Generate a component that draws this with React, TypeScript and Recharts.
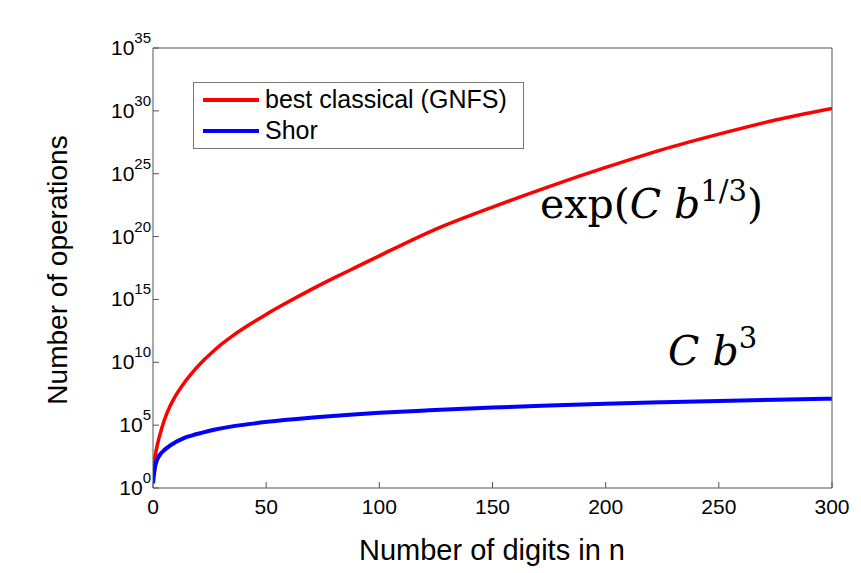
import { LineChart, Line, XAxis, YAxis, Legend } from 'recharts'

// digits in n, and log10(number of operations)
const classicalDigits = [0, 1, 2, 3, 5, 7.5, 10, 13.5, 17, 21, 25, 28, 35, 43, 50, 58, 69, 80, 90, 100, 125, 150, 175, 200, 225, 250, 275, 300]
const classicalExp = [1.3, 2.6, 3.5, 4.2, 5.4, 6.5, 7.35, 8.3, 9.1, 9.9, 10.6, 11.1, 12.08, 13.04, 13.81, 14.63, 15.7, 16.71, 17.59, 18.47, 20.6, 22.35, 23.98, 25.5, 26.92, 28.15, 29.27, 30.2]

const shorDigits = [0, 0.5, 1, 1.6, 2.5, 3.5, 4.6, 6, 7.5, 10, 13.4, 17, 21, 28, 35, 43, 58, 72, 87, 100, 122, 150, 175, 200, 225, 250, 275, 300]
const shorExp = [0.37, 1.2, 1.75, 2.15, 2.5, 2.75, 2.95, 3.17, 3.38, 3.65, 3.95, 4.17, 4.37, 4.67, 4.9, 5.1, 5.4, 5.63, 5.83, 5.98, 6.18, 6.4, 6.56, 6.7, 6.82, 6.93, 7.02, 7.1]

const xTicks = [0, 50, 100, 150, 200, 250, 300]
const yTicks = [0, 5, 10, 15, 20, 25, 30, 35]

const seriesNames = ['best classical (GNFS)', 'Shor']
const seriesColors = ['#ff0000', '#0000ff']

const classical = classicalDigits.map((d, i) => ({ d, v: classicalExp[i] }))
const shor = shorDigits.map((d, i) => ({ d, v: shorExp[i] }))

const AXIS = '#555'
const SANS = '"Liberation Sans", Arial, Helvetica, sans-serif'
const TICK = 6

function BottomTick({ x, y, payload }: any) {
  return (
    <g>
      <line x1={x} x2={x} y1={y} y2={y - TICK} stroke={AXIS} />
      <text x={x} y={y + 26} textAnchor="middle" fontSize={21} fontFamily={SANS} fill="#000">
        {payload.value}
      </text>
    </g>
  )
}

function TopTick({ x, y }: any) {
  return <line x1={x} x2={x} y1={y} y2={y + TICK} stroke={AXIS} />
}

function LeftTick({ x, y, payload }: any) {
  return (
    <g>
      <line x1={x} x2={x + TICK} y1={y} y2={y} stroke={AXIS} />
      <text x={x - 2} y={y + 7} textAnchor="end" fontSize={21} fontFamily={SANS} fill="#000">
        <tspan>10</tspan>
        <tspan dy={-12} fontSize={15}>{payload.value}</tspan>
      </text>
    </g>
  )
}

function RightTick({ x, y }: any) {
  return <line x1={x} x2={x - TICK} y1={y} y2={y} stroke={AXIS} />
}

function LegendBox() {
  return (
    <div
      style={{
        boxSizing: 'border-box',
        width: 331,
        height: 67,
        border: '1px solid #777',
        background: '#fff',
        padding: '1px 0 0 9px',
        fontFamily: SANS,
        fontSize: 25,
        color: '#000',
      }}
    >
      {seriesNames.map((name, i) => (
        <div key={name} style={{ display: 'flex', alignItems: 'center', height: 31 }}>
          <svg width={56} height={6} style={{ marginRight: 6 }}>
            <line x1={0} x2={56} y1={3} y2={3} stroke={seriesColors[i]} strokeWidth={4} />
          </svg>
          <span style={{ lineHeight: '31px' }}>{name}</span>
        </div>
      ))}
    </div>
  )
}

export default function App() {
  return (
    <div style={{ position: 'absolute', left: 0, top: 0, width: 861, height: 573, background: '#fff' }}>
      <LineChart width={861} height={573} margin={{ top: 47, right: 28, bottom: 84, left: 152 }}>
        <XAxis
          xAxisId={0}
          type="number"
          dataKey="d"
          domain={[0, 300]}
          ticks={xTicks}
          interval={0}
          height={1}
          tickSize={0}
          tickMargin={0}
          tickLine={false}
          axisLine={{ stroke: AXIS }}
          tick={<BottomTick />}
          allowDataOverflow
        />
        <XAxis
          xAxisId="top"
          orientation="top"
          type="number"
          dataKey="d"
          domain={[0, 300]}
          ticks={xTicks}
          interval={0}
          height={1}
          tickSize={0}
          tickMargin={0}
          tickLine={false}
          axisLine={{ stroke: AXIS }}
          tick={<TopTick />}
        />
        <YAxis
          yAxisId={0}
          type="number"
          domain={[0, 35]}
          ticks={yTicks}
          interval={0}
          width={1}
          tickSize={0}
          tickMargin={0}
          tickLine={false}
          axisLine={{ stroke: AXIS }}
          tick={<LeftTick />}
          allowDataOverflow
        />
        <YAxis
          yAxisId="right"
          orientation="right"
          type="number"
          domain={[0, 35]}
          ticks={yTicks}
          interval={0}
          width={1}
          tickSize={0}
          tickMargin={0}
          tickLine={false}
          axisLine={{ stroke: AXIS }}
          tick={<RightTick />}
        />
        <Legend
          layout="vertical"
          align="center"
          verticalAlign="middle"
          content={<LegendBox />}
          wrapperStyle={{ left: 193, top: 82, width: 331, height: 67 }}
        />
        <Line
          data={classical}
          dataKey="v"
          name={seriesNames[0]}
          type="monotone"
          stroke={seriesColors[0]}
          strokeWidth={3.5}
          dot={false}
          activeDot={false}
          isAnimationActive={false}
        />
        <Line
          data={shor}
          dataKey="v"
          name={seriesNames[1]}
          type="monotone"
          stroke={seriesColors[1]}
          strokeWidth={4}
          dot={false}
          activeDot={false}
          isAnimationActive={false}
        />
      </LineChart>
      <svg
        width={861}
        height={573}
        style={{ position: 'absolute', left: 0, top: 0, pointerEvents: 'none' }}
      >
        <text x={492} y={560} textAnchor="middle" fontSize={29} fontFamily={SANS} fill="#000">
          Number of digits in n
        </text>
        <text
          x={0}
          y={0}
          transform="translate(67 270) rotate(-90)"
          textAnchor="middle"
          fontSize={28}
          fontFamily={SANS}
          fill="#000"
        >
          Number of operations
        </text>
        <text x={540} y={218} fontSize={41} fontFamily='"DejaVu Serif", serif' fill="#000">
          <tspan>exp(</tspan>
          <tspan fontStyle="italic">C</tspan>
          <tspan> </tspan>
          <tspan fontStyle="italic">b</tspan>
          <tspan dy={-17} fontSize={29}>1/3</tspan>
          <tspan dy={17}>)</tspan>
        </text>
        <text x={668} y={365} fontSize={41} fontFamily='"DejaVu Serif", serif' fill="#000">
          <tspan fontStyle="italic">C</tspan>
          <tspan> </tspan>
          <tspan fontStyle="italic">b</tspan>
          <tspan dy={-17} fontSize={29}>3</tspan>
        </text>
      </svg>
    </div>
  )
}
